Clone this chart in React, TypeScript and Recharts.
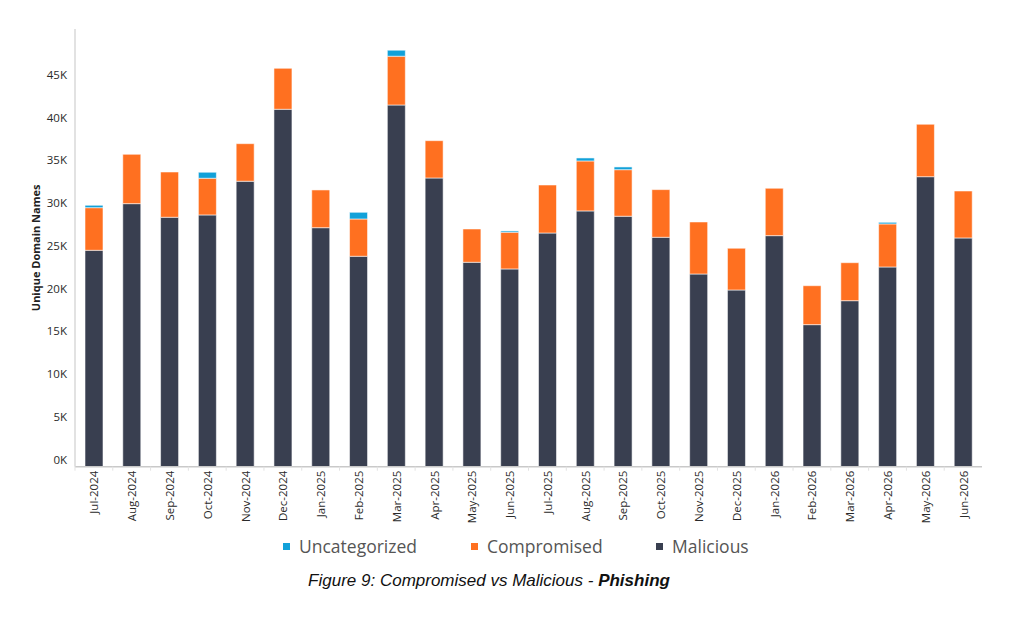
import React from "react";
import { BarChart, Bar, XAxis, YAxis } from "recharts";

const months = [
  "Jul-2024", "Aug-2024", "Sep-2024", "Oct-2024", "Nov-2024", "Dec-2024",
  "Jan-2025", "Feb-2025", "Mar-2025", "Apr-2025", "May-2025", "Jun-2025",
  "Jul-2025", "Aug-2025", "Sep-2025", "Oct-2025", "Nov-2025", "Dec-2025",
  "Jan-2026", "Feb-2026", "Mar-2026", "Apr-2026", "May-2026", "Jun-2026",
];

const malicious = [
  25290, 30740, 29150, 29420, 33360, 41770, 27930, 24590, 42270, 33740, 23890, 23110,
  27310, 29890, 29270, 26810, 22520, 20650, 27000, 16600, 19400, 23340, 33890, 26730,
];

const compromised = [
  4980, 5770, 5290, 4290, 4390, 4790, 4410, 4360, 5700, 4360, 3890, 4290,
  5610, 5840, 5440, 5570, 6080, 4880, 5540, 4550, 4440, 5030, 6130, 5490,
];

const uncategorized = [
  280, 0, 0, 700, 0, 0, 0, 780, 700, 0, 0, 150,
  0, 350, 320, 0, 0, 0, 0, 0, 0, 190, 0, 0,
];

const yTicks = [0, 5000, 10000, 15000, 20000, 25000, 30000, 35000, 40000, 45000];

const C_MAL = "#393f50";
const C_COMP = "#ff7020";
const C_UNC = "#12a1d9";

const data = months.map((m, i) => ({
  month: m,
  malicious: malicious[i],
  compromised: compromised[i],
  uncategorized: uncategorized[i],
}));

const font = "'Open Sans', sans-serif";

const YTick = ({ x, y, payload }: any) => (
  <text x={x} y={y - 7.4} textAnchor="end" dominantBaseline="central"
    fontFamily={font} fontSize={11.5} fill="#2a2a2a">
    {payload.value / 1000}K
  </text>
);

const XTick = ({ x, y, payload }: any) => (
  <g>
    <line x1={x - 18.9} x2={x - 18.9} y1={y - 4} y2={y} stroke="#e2e2e2" strokeWidth={1} />
    <text x={x} y={y} transform={`rotate(-90 ${x} ${y})`} textAnchor="end"
      dominantBaseline="central" fontFamily={font} fontSize={11.5} fill="#2a2a2a">
      {payload.value}
    </text>
  </g>
);

const legend = [
  { name: "Uncategorized", color: C_UNC, left: 283 },
  { name: "Compromised", color: C_COMP, left: 471 },
  { name: "Malicious", color: C_MAL, left: 656 },
];

export default function App() {
  return (
    <div style={{ position: "absolute", left: 0, top: 0, width: 1024, height: 639, background: "#fff" }}>
      <BarChart width={1024} height={639} data={data}
        margin={{ top: 29, right: 42, left: 0, bottom: 112.3 }} barSize={18}>
        <XAxis dataKey="month" interval={0} height={60} tickSize={0} tickMargin={4}
          tick={<XTick />} axisLine={{ stroke: "#c9c9c9", strokeWidth: 1.5 }} />
        <YAxis width={75} domain={[0, 51150]} ticks={yTicks} tick={<YTick />}
          tickLine={false} axisLine={{ stroke: "#d9d9d9", strokeWidth: 1.5 }}
          label={{ value: "Unique Domain Names", angle: -90, position: "insideLeft", offset: 36,
            style: { fontFamily: font, fontSize: 11, fontWeight: 700, fill: "#222", textAnchor: "middle" } }} />
        <Bar dataKey="malicious" stackId="a" fill={C_MAL} stroke="#fff" strokeOpacity={0.55} strokeWidth={1} isAnimationActive={false} />
        <Bar dataKey="compromised" stackId="a" fill={C_COMP} stroke="#fff" strokeOpacity={0.55} strokeWidth={1} isAnimationActive={false} />
        <Bar dataKey="uncategorized" stackId="a" fill={C_UNC} stroke="#fff" strokeOpacity={0.55} strokeWidth={1} isAnimationActive={false} />
      </BarChart>
      {legend.map((l) => (
        <div key={l.name} style={{ position: "absolute", left: l.left, top: 535, height: 22, display: "flex", alignItems: "center" }}>
          <span style={{ width: 7, height: 7, background: l.color, display: "inline-block", marginRight: 9 }} />
          <span style={{ fontFamily: font, fontSize: 17.5, color: "#555" }}>{l.name}</span>
        </div>
      ))}
      <div style={{ position: "absolute", left: 0, width: 978, top: 571, textAlign: "center",
        fontFamily: "'Liberation Sans', Arial, sans-serif", fontStyle: "italic", fontSize: 17, color: "#111" }}>
        Figure 9: Compromised vs Malicious - <b>Phishing</b>
      </div>
    </div>
  );
}
